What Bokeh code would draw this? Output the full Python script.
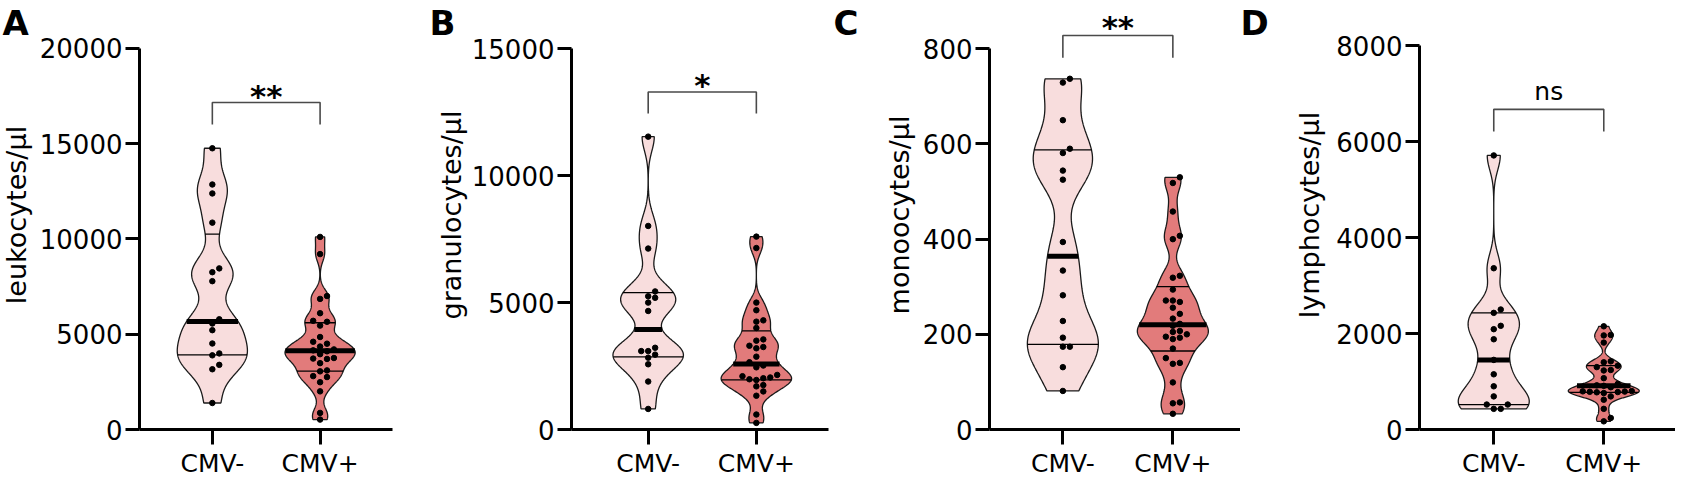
import numpy as np
from bokeh.plotting import figure
from bokeh.layouts import row
from bokeh.models import FixedTicker, Range1d
from bokeh.core.properties import value
from bokeh.embed import file_html
from bokeh.resources import INLINE

# ---------------- data ----------------
groups = ["CMV-", "CMV+"]

leukocytes_neg = [14750, 12850, 12380, 10850, 8450, 8250, 7780, 5780, 5560, 5210,
                  4510, 3990, 3890, 3390, 3160, 1390]
leukocytes_pos = [10100, 9200, 7000, 6850, 6100, 5700, 5650, 5450, 4850, 4600, 4500,
                  4350, 4200, 4150, 4100, 3950, 3750, 3720, 3700, 3480, 3100, 3050,
                  2800, 2750, 2480, 2000, 870, 520]

granulocytes_neg = [11540, 8020, 7130, 5440, 5250, 5190, 5000, 4670, 3220, 3090, 3090,
                    2950, 2830, 2570, 1890, 810]
granulocytes_pos = [7600, 7150, 5000, 4700, 4300, 4250, 4000, 3550, 3500, 3300, 3250,
                    3200, 2870, 2650, 2520, 2450, 2150, 2100, 2050, 2020, 1980, 1950,
                    1750, 1700, 1500, 1330, 590, 260]

monocytes_neg = [737, 729, 650, 590, 581, 544, 525, 394, 334, 282, 228, 193, 174, 174,
                 131, 81]
monocytes_pos = [530, 518, 458, 407, 400, 323, 319, 294, 271, 271, 268, 256, 243, 233,
                 222, 218, 207, 205, 200, 195, 193, 190, 170, 150, 140, 138, 99, 57,
                 55, 33]

lymphocytes_neg = [5710, 3360, 2500, 2430, 2160, 2090, 1880, 1450, 1150, 900, 690, 520,
                   520, 430, 430]
lymphocytes_pos = [2150, 1970, 1960, 1810, 1420, 1400, 1330, 1300, 1240, 1230, 1070,
                   950, 920, 910, 880, 800, 795, 790, 785, 780, 775, 760, 690, 620,
                   430, 240, 170]

panel_letters = ["A", "B", "C", "D"]
y_labels = ["leukocytes/\u03bcl", "granulocytes/\u03bcl", "monoocytes/\u03bcl", "lymphocytes/\u03bcl"]
y_ticks = [[0, 5000, 10000, 15000, 20000],
           [0, 5000, 10000, 15000],
           [0, 200, 400, 600, 800],
           [0, 2000, 4000, 6000, 8000]]
significance = ["**", "*", "**", "ns"]
series = [(leukocytes_neg, leukocytes_pos), (granulocytes_neg, granulocytes_pos),
          (monocytes_neg, monocytes_pos), (lymphocytes_neg, lymphocytes_pos)]

# ---------------- layout / style ----------------
FONT = "DejaVu Sans"
FILL = ["#F8DDDD", "#E27B7B"]
H = 480          # figure height (page y 8 .. 488)
FRAME_H = 432    # frame bottom at page y 440
HALF_W_PX = 35.5
DOT_PX = 5.5
BW_FACTOR = 0.35

# label strip (panel letter + y title) and main plot per panel, in page pixels
layout = [
    dict(strip=(8, 44), letter=(10, 33.3), ylab=(24, 248),
         w=376, bl=100, br=20, xr=(0.324, 2.672), ytop=22500,
         br_y=(16000, 17150), sig_y=17500),
    dict(strip=(420, 476), letter=(437, 33.3), ylab=(459, 248),
         w=364, bl=101, br=4, xr=(0.291, 2.667), ytop=16904,
         br_y=(12450, 13300), sig_y=13580),
    dict(strip=(840, 925), letter=(841, 33.3), ylab=(907, 248),
         w=323, bl=72, br=0, xr=(0.333, 2.615), ytop=901.5,
         br_y=(781, 828), sig_y=845),
    dict(strip=(1248, 1336), letter=(1248, 33.3), ylab=(1317, 248),
         w=347, bl=91, br=0, xr=(0.325, 2.652), ytop=8938,
         br_y=(6210, 6670), sig_y=7035),
]


def quartiles(vals):
    s = np.sort(np.asarray(vals, dtype=float))
    n = len(s)

    def q(p):
        pos = p * (n + 1) - 1
        lo = int(np.floor(pos))
        fr = pos - lo
        lo = max(0, min(lo, n - 1))
        hi = min(lo + 1, n - 1)
        return s[lo] + fr * (s[hi] - s[lo])

    return q(0.25), float(np.median(s)), q(0.75)


def violin(vals):
    v = np.asarray(vals, dtype=float)
    n = len(v)
    bw = BW_FACTOR * 1.06 * v.std(ddof=1) * n ** (-0.2)
    grid = np.linspace(v.min(), v.max(), 400)
    dens = np.exp(-0.5 * ((grid[None, :] - v[:, None]) / bw) ** 2).sum(axis=0)
    return grid, dens / dens.max()


def swarm(vals, pxu_y, spacing=7.0, mind=6.2):
    v = np.asarray(vals, dtype=float)
    order = np.argsort(v)
    placed = []
    offs = np.zeros(len(v))
    cands = [0.0]
    for j in range(1, 8):
        cands += [j * spacing, -j * spacing]
    for i in order:
        y = v[i] * pxu_y
        for c in cands:
            if all((c - px) ** 2 + (y - py) ** 2 >= mind ** 2 for px, py in placed):
                break
        placed.append((c, y))
        offs[i] = c
    return offs


figs = []
for k in range(4):
    L = layout[k]

    # ---- strip with panel letter and y-axis title ----
    s0, s1 = L["strip"]
    s = figure(width=s1 - s0, height=H, output_backend="svg", toolbar_location=None,
               x_range=Range1d(s0, s1), y_range=Range1d(488, 8),
               x_axis_location=None, y_axis_location=None,
               min_border_left=0, min_border_right=0, min_border_top=0, min_border_bottom=0)
    s.outline_line_color = None
    s.grid.grid_line_color = None
    s.text(x=[L["letter"][0]], y=[L["letter"][1]], text=[panel_letters[k]],
           text_align="left", text_baseline="alphabetic", text_font=value(FONT),
           text_font_style="bold", text_font_size="34px", text_color="black")
    s.text(x=[L["ylab"][0]], y=[L["ylab"][1]], text=[y_labels[k]], angle=np.pi / 2,
           text_align="center", text_baseline="middle", text_font=value(FONT),
           text_font_size="27px", text_color="black")
    figs.append(s)

    # ---- main plot ----
    frame_w = L["w"] - L["bl"] - L["br"]
    pxu_x = frame_w / (L["xr"][1] - L["xr"][0])
    pxu_y = FRAME_H / L["ytop"]
    p = figure(width=L["w"], height=H, output_backend="svg", toolbar_location=None,
               x_range=Range1d(*L["xr"]), y_range=Range1d(0, L["ytop"]),
               min_border_left=L["bl"], min_border_right=L["br"],
               min_border_top=0, min_border_bottom=H - FRAME_H)
    p.outline_line_color = None
    p.grid.grid_line_color = None

    for gi, vals in enumerate(series[k]):
        cx = gi + 1
        grid, dens = violin(vals)
        hw = dens * HALF_W_PX / pxu_x
        xs = np.concatenate([cx + hw, (cx - hw)[::-1]])
        ys = np.concatenate([grid, grid[::-1]])
        p.patch(xs, ys, fill_color=FILL[gi], line_color="#1a1a1a", line_width=1.3)
        q1, med, q3 = quartiles(vals)
        for qv, lw in ((q1, 1.3), (q3, 1.3), (med, 5)):
            w = np.interp(qv, grid, hw)
            p.line([cx - w, cx + w], [qv, qv], line_color="black", line_width=lw)
        offs = swarm(vals, pxu_y) / pxu_x
        p.scatter(cx + offs, vals, size=DOT_PX, fill_color="black", line_color="black")

    b0, b1 = L["br_y"]
    p.line([1, 1, 2, 2], [b0, b1, b1, b0], line_color="#4a4a4a", line_width=1.6)
    sig = significance[k]
    p.text(x=[1.5], y=[L["sig_y"]], text=[sig], text_align="center",
           text_baseline="alphabetic", text_font=value(FONT),
           text_font_style="bold" if sig != "ns" else "normal",
           text_font_size="31px" if sig != "ns" else "25px", text_color="black")

    ya = p.yaxis[0]
    ya.ticker = FixedTicker(ticks=y_ticks[k])
    ya.bounds = (0, y_ticks[k][-1])
    ya.major_label_text_font = FONT
    ya.major_label_text_font_size = "26px"
    ya.major_label_standoff = 3
    ya.minor_tick_line_color = None

    xa = p.xaxis[0]
    xa.ticker = FixedTicker(ticks=[1, 2])
    xa.major_label_overrides = {1: groups[0], 2: groups[1]}
    xa.major_label_text_font = FONT
    xa.major_label_text_font_size = "25px"
    xa.major_label_standoff = 4
    xa.minor_tick_line_color = None

    for ax in (ya, xa):
        ax.axis_line_width = 3
        ax.axis_line_color = "black"
        ax.major_tick_line_width = 3
        ax.major_tick_line_color = "black"
        ax.major_tick_in = 0
        ax.major_label_text_color = "black"
    ya.major_tick_out = 14
    xa.major_tick_out = 15
    figs.append(p)

layout_row = row(*figs, spacing=0)
open("out.html", "w").write(file_html(layout_row, INLINE))
